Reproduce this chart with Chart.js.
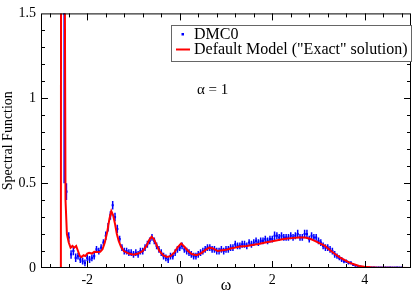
<!DOCTYPE html>
<html>
<head>
<meta charset="utf-8">
<script src="https://cdn.jsdelivr.net/npm/chart.js@4.4.0/dist/chart.umd.min.js"></script>
<style>
  html, body { margin: 0; padding: 0; background: #fff; }
  #wrap { width: 415px; height: 295px; }
</style>
</head>
<body>
<div id="wrap"><canvas id="spectral"></canvas></div>
<script>
// DMC0 points (omega, A(omega), error bar)
const dmcX = [
  -2.50, -2.45, -2.40, -2.35, -2.30, -2.25, -2.20, -2.15, -2.10, -2.05,
  -2.00, -1.95, -1.90, -1.85, -1.80, -1.75, -1.70, -1.65, -1.60, -1.55,
  -1.50, -1.45, -1.40, -1.35, -1.30, -1.25, -1.20, -1.15, -1.10, -1.05,
  -1.00, -0.95, -0.90, -0.85, -0.80, -0.75, -0.70, -0.65, -0.60, -0.55,
  -0.50, -0.45, -0.40, -0.35, -0.30, -0.25, -0.20, -0.15, -0.10, -0.05,
  0.00, 0.05, 0.10, 0.15, 0.20, 0.25, 0.30, 0.35, 0.40, 0.45,
  0.50, 0.55, 0.60, 0.65, 0.70, 0.75, 0.80, 0.85, 0.90, 0.95,
  1.00, 1.05, 1.10, 1.15, 1.20, 1.25, 1.30, 1.35, 1.40, 1.45,
  1.50, 1.55, 1.60, 1.65, 1.70, 1.75, 1.80, 1.85, 1.90, 1.95,
  2.00, 2.05, 2.10, 2.15, 2.20, 2.25, 2.30, 2.35, 2.40, 2.45,
  2.50, 2.55, 2.60, 2.65, 2.70, 2.75, 2.80, 2.85, 2.90, 2.95,
  3.00, 3.05, 3.10, 3.15, 3.20, 3.25, 3.30, 3.35, 3.40, 3.45,
  3.50, 3.55, 3.60, 3.65, 3.70, 3.75, 3.80, 3.85, 3.90, 3.95,
  4.00, 4.05, 4.10, 4.15, 4.20, 4.25, 4.30, 4.35, 4.40, 4.45,
  4.50, 4.55, 4.60, 4.65, 4.70, 4.75, 4.80
];
const dmcY = [
  1.50, 0.45, 0.18, 0.08, 0.10, 0.06, 0.07, 0.05, 0.04, 0.03,
  0.06, 0.05, 0.06, 0.07, 0.11, 0.10, 0.12, 0.15, 0.19, 0.24,
  0.31, 0.37, 0.30, 0.23, 0.17, 0.12, 0.10, 0.10, 0.09, 0.09,
  0.08, 0.09, 0.08, 0.10, 0.10, 0.12, 0.14, 0.16, 0.18, 0.16,
  0.13, 0.11, 0.09, 0.07, 0.06, 0.05, 0.07, 0.07, 0.09, 0.11,
  0.12, 0.13, 0.11, 0.10, 0.09, 0.08, 0.07, 0.07, 0.08, 0.09,
  0.10, 0.11, 0.12, 0.12, 0.11, 0.11, 0.10, 0.10, 0.11, 0.10,
  0.11, 0.11, 0.12, 0.12, 0.14, 0.13, 0.13, 0.14, 0.14, 0.13,
  0.15, 0.14, 0.15, 0.16, 0.15, 0.16, 0.16, 0.17, 0.16, 0.17,
  0.17, 0.19, 0.19, 0.18, 0.19, 0.18, 0.18, 0.18, 0.19, 0.18,
  0.19, 0.20, 0.18, 0.18, 0.20, 0.20, 0.17, 0.19, 0.18, 0.18,
  0.16, 0.15, 0.13, 0.12, 0.12, 0.11, 0.10, 0.08, 0.07, 0.06,
  0.05, 0.04, 0.04, 0.03, 0.03, 0.02, 0.015, 0.01, 0.008, 0.005,
  0.004, 0.004, 0.003, 0.003, 0.003, 0.002, 0.003, 0.002, 0.002, 0.003,
  0.002, 0.003, 0.002, 0.002, 0.003, 0.002, 0.002
];
const dmcErr = [
  1.00, 0.05, 0.03, 0.025, 0.025, 0.025, 0.02, 0.02, 0.02, 0.02,
  0.02, 0.02, 0.02, 0.02, 0.02, 0.02, 0.02, 0.02, 0.025, 0.025,
  0.025, 0.025, 0.025, 0.025, 0.02, 0.02, 0.02, 0.02, 0.02, 0.02,
  0.02, 0.02, 0.02, 0.02, 0.02, 0.02, 0.02, 0.02, 0.02, 0.02,
  0.02, 0.02, 0.02, 0.02, 0.02, 0.02, 0.02, 0.02, 0.02, 0.02,
  0.02, 0.02, 0.02, 0.02, 0.02, 0.02, 0.02, 0.02, 0.02, 0.02,
  0.02, 0.02, 0.02, 0.02, 0.02, 0.02, 0.02, 0.02, 0.02, 0.02,
  0.02, 0.02, 0.02, 0.02, 0.02, 0.02, 0.02, 0.02, 0.02, 0.02,
  0.02, 0.02, 0.02, 0.02, 0.02, 0.02, 0.02, 0.02, 0.02, 0.02,
  0.02, 0.025, 0.02, 0.02, 0.02, 0.02, 0.02, 0.02, 0.02, 0.02,
  0.02, 0.025, 0.02, 0.02, 0.025, 0.025, 0.02, 0.02, 0.02, 0.02,
  0.02, 0.02, 0.02, 0.02, 0.02, 0.02, 0.02, 0.02, 0.015, 0.015,
  0.015, 0.012, 0.01, 0.01, 0.01, 0.008, 0.008, 0.006, 0.005, 0.005,
  0.004, 0.004, 0.004, 0.004, 0.004, 0.004, 0.004, 0.004, 0.004, 0.004,
  0.004, 0.004, 0.004, 0.004, 0.004, 0.004, 0.004
];

// Default Model ("Exact" solution)
const modelX = [
  -2.57, -2.565, -2.50, -2.47, -2.44, -2.40, -2.36, -2.32, -2.28, -2.24,
  -2.20, -2.16, -2.12, -2.08, -2.04, -2.00, -1.96, -1.90, -1.85, -1.78,
  -1.72, -1.67, -1.62, -1.57, -1.52, -1.48, -1.44, -1.40, -1.36, -1.32,
  -1.27, -1.21, -1.10, -1.00, -0.90, -0.80, -0.72, -0.66, -0.61, -0.56,
  -0.50, -0.44, -0.36, -0.28, -0.20, -0.12, -0.05, 0.03, 0.10, 0.18,
  0.26, 0.36, 0.45, 0.55, 0.64, 0.72, 0.82, 0.92, 1.00, 1.10,
  1.20, 1.30, 1.45, 1.57, 1.70, 1.85, 2.00, 2.14, 2.28, 2.42,
  2.56, 2.71, 2.82, 2.92, 3.03, 3.14, 3.25, 3.35, 3.46, 3.57,
  3.68, 3.78, 3.88, 3.99, 4.13, 4.28, 4.50, 5.00
];
const modelY = [
  0.00, 3.00, 3.00, 0.40, 0.20, 0.15, 0.12, 0.13, 0.12, 0.13,
  0.10, 0.07, 0.065, 0.075, 0.07, 0.085, 0.09, 0.085, 0.095, 0.094,
  0.095, 0.11, 0.15, 0.21, 0.29, 0.335, 0.31, 0.26, 0.20, 0.16,
  0.125, 0.10, 0.085, 0.078, 0.085, 0.10, 0.13, 0.165, 0.184, 0.17,
  0.135, 0.10, 0.075, 0.065, 0.07, 0.09, 0.12, 0.145, 0.125, 0.10,
  0.082, 0.075, 0.085, 0.105, 0.12, 0.115, 0.10, 0.105, 0.107, 0.115,
  0.12, 0.126, 0.13, 0.136, 0.142, 0.15, 0.158, 0.165, 0.172, 0.176,
  0.179, 0.18, 0.172, 0.16, 0.145, 0.13, 0.105, 0.084, 0.063, 0.046,
  0.03, 0.021, 0.012, 0.007, 0.004, 0.002, 0.001, 0.00
];

const xTicks = [-2, 0, 2, 4];
const yTicks = [0, 0.5, 1, 1.5];

const SERIF = '"Liberation Serif", "DejaVu Serif", serif';

// error bars under the DMC0 points
const errorBars = {
  id: 'errorBars',
  beforeDatasetsDraw(chart) {
    const { ctx, chartArea, scales } = chart;
    ctx.save();
    ctx.beginPath();
    ctx.rect(chartArea.left, chartArea.top, chartArea.right - chartArea.left, chartArea.bottom - chartArea.top);
    ctx.clip();
    ctx.strokeStyle = '#0000ff';
    ctx.lineWidth = 1.5;
    dmcX.forEach((x, i) => {
      const px = scales.x.getPixelForValue(x);
      const y1 = scales.y.getPixelForValue(dmcY[i] - dmcErr[i]);
      const y2 = scales.y.getPixelForValue(dmcY[i] + dmcErr[i]);
      ctx.beginPath();
      ctx.moveTo(px, y1);
      ctx.lineTo(px, y2);
      ctx.stroke();
    });
    ctx.restore();
  }
};

// frame with inward ticks on all four sides
const frameTicks = {
  id: 'frameTicks',
  afterDatasetsDraw(chart) {
    const { ctx, chartArea: a, scales } = chart;
    ctx.save();
    ctx.strokeStyle = '#000';
    ctx.lineWidth = 1;
    ctx.strokeRect(a.left + 0.5, a.top + 0.5, a.right - a.left - 1, a.bottom - a.top - 1);
    ctx.beginPath();
    for (let v = -2.8; v < 5; v += 0.4) {
      const major = Math.abs(v / 2 - Math.round(v / 2)) < 1e-6;
      const len = major ? 7 : 4;
      const px = Math.round(scales.x.getPixelForValue(v)) + 0.5;
      ctx.moveTo(px, a.bottom); ctx.lineTo(px, a.bottom - len);
      ctx.moveTo(px, a.top); ctx.lineTo(px, a.top + len);
    }
    for (let k = 1; k < 15; k++) {
      const v = k / 10;
      const len = k % 5 === 0 ? 7 : 4;
      const py = Math.round(scales.y.getPixelForValue(v)) + 0.5;
      ctx.moveTo(a.left, py); ctx.lineTo(a.left + len, py);
      ctx.moveTo(a.right, py); ctx.lineTo(a.right - len, py);
    }
    ctx.stroke();
    ctx.restore();
  }
};

// legend box and alpha annotation
const legendBox = {
  id: 'legendBox',
  afterDraw(chart) {
    const ctx = chart.ctx;
    ctx.save();
    ctx.fillStyle = '#fff';
    ctx.fillRect(171, 25, 240, 36);
    ctx.strokeStyle = '#666';
    ctx.lineWidth = 1;
    ctx.strokeRect(171.5, 25.5, 240, 36);
    ctx.fillStyle = '#0000ff';
    ctx.fillRect(181.5, 33, 2.5, 2.5);
    ctx.strokeStyle = '#ff0000';
    ctx.lineWidth = 2;
    ctx.beginPath();
    ctx.moveTo(176, 49.5); ctx.lineTo(190, 49.5);
    ctx.stroke();
    ctx.fillStyle = '#000';
    ctx.font = '16px ' + SERIF;
    ctx.textBaseline = 'middle';
    ctx.fillText('DMC0', 194, 34.5);
    ctx.fillText('Default Model ("Exact" solution)', 194, 50);
    ctx.font = '15px ' + SERIF;
    ctx.fillText('\u03b1 = 1', 197, 90);
    ctx.restore();
  }
};

new Chart(document.getElementById('spectral'), {
  type: 'scatter',
  data: {
    datasets: [
      {
        label: 'DMC0',
        data: dmcX.map((x, i) => ({ x: x, y: dmcY[i] })),
        showLine: false,
        pointStyle: 'rect',
        pointRadius: 1.5,
        pointBackgroundColor: '#0000ff',
        pointBorderColor: '#0000ff',
        pointBorderWidth: 0,
        order: 1
      },
      {
        label: 'Default Model ("Exact" solution)',
        data: modelX.map((x, i) => ({ x: x, y: modelY[i] })),
        showLine: true,
        borderColor: '#ff0000',
        borderWidth: 2,
        pointRadius: 0,
        tension: 0,
        order: 0
      }
    ]
  },
  options: {
    responsive: true,
    maintainAspectRatio: false,
    animation: false,
    layout: { padding: { top: 7, right: 3, left: 0, bottom: 0 } },
    plugins: { legend: { display: false }, tooltip: { enabled: false } },
    scales: {
      x: {
        type: 'linear', min: -3, max: 5,
        afterBuildTicks: s => { s.ticks = xTicks.map(v => ({ value: v })); },
        afterFit: s => { s.height = 27; },
        grid: { display: false, drawTicks: false },
        border: { display: false },
        ticks: { padding: 4, color: '#000', font: { family: SERIF, size: 14 }, callback: v => String(v) },
        title: { display: true, text: '\u03c9', color: '#000', padding: 0, font: { family: SERIF, size: 16 } }
      },
      y: {
        type: 'linear', min: 0, max: 1.5,
        afterBuildTicks: s => { s.ticks = yTicks.map(v => ({ value: v })); },
        afterFit: s => { s.width = 41; },
        grid: { display: false, drawTicks: false },
        border: { display: false },
        ticks: { padding: 5, color: '#000', font: { family: SERIF, size: 14 }, callback: v => String(v) },
        title: { display: true, text: 'Spectral Function', color: '#000', padding: 0, font: { family: SERIF, size: 14 } }
      }
    }
  },
  plugins: [errorBars, frameTicks, legendBox]
});
</script>
</body>
</html>
